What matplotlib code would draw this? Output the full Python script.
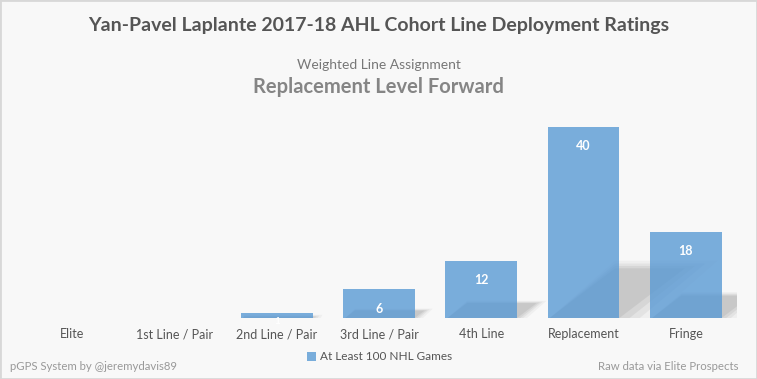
import matplotlib
matplotlib.use("Agg")
import matplotlib.pyplot as plt
from matplotlib.patches import Polygon, Rectangle

categories = ["Elite", "1st Line / Pair", "2nd Line / Pair", "3rd Line / Pair", "4th Line", "Replacement", "Fringe"]
values = [0, 0, 1, 6, 12, 40, 18]
series_name = "At Least 100 NHL Games"
title = "Yan-Pavel Laplante 2017-18 AHL Cohort Line Deployment Ratings"
subtitle1 = "Weighted Line Assignment"
subtitle2 = "Replacement Level Forward"
credit_left = "pGPS System by @jeremydavis89"
credit_right = "Raw data via Elite Prospects"

W, H = 757, 379
fig = plt.figure(figsize=(W / 100, H / 100), dpi=100)
bg = "#f8f8f8"
fig.patch.set_facecolor(bg)
fig.patches.append(Rectangle((0, 0), 1, 1, transform=fig.transFigure, fill=False,
                             edgecolor="#d8d8d8", linewidth=2, zorder=10))

ax = fig.add_axes([21 / W, 1 - 318 / H, (737 - 21) / W, (318 - 103) / H])
ax.set_facecolor(bg)
ax.set_xlim(-0.5, len(categories) - 0.5)
ax.set_ylim(0, 45)
for s in ax.spines.values():
    s.set_visible(False)
ax.set_yticks([])
ax.set_xticks(range(len(categories)))
ax.set_xticklabels(categories, fontsize=9, color="#555555", family="Lato")
ax.tick_params(axis="x", length=0, pad=7.5)

bw = 0.7
# soft shadows behind bars
for i, v in enumerate(values):
    if v <= 0:
        continue
    sh = 0.26 * v
    shift = 0.016 * v
    x0, x1 = i - bw / 2, i + bw / 2
    for grow, a in [(0.08, 0.12), (0.05, 0.18), (0.025, 0.25), (0.0, 0.35)]:
        g = grow * max(1, v / 10)
        poly = Polygon([(x0 + 0.02, 0), (x1 + g, 0), (x1 + shift + g, sh + g * 5),
                        (x0 + shift + 0.02, sh + g * 5)],
                       closed=True, facecolor="#b0b0b0", edgecolor="none", alpha=a, zorder=1)
        ax.add_patch(poly)

bars = ax.bar(range(len(categories)), values, width=bw, color="#5a9ad4", alpha=0.8,
              zorder=2, label=series_name)
for i, v in enumerate(values):
    if v <= 0:
        continue
    off = -14 if v >= 3 else -6
    ax.annotate(str(v), (i, v), xytext=(0, off), textcoords="offset points",
                ha="center", va="center", color="white", fontsize=9 if v >= 3 else 7,
                fontweight="bold", family="Lato", zorder=3)

fig.text(0.5, 1 - 26 / H, title, ha="center", va="center", fontsize=14,
         fontweight="bold", color="#555555", family="Lato")
fig.text(0.5, 1 - 65 / H, subtitle1, ha="center", va="center", fontsize=10,
         color="#777777", family="Lato")
fig.text(0.5, 1 - 87 / H, subtitle2, ha="center", va="center", fontsize=14.5,
         fontweight="bold", color="#858585", family="Lato")
fig.text(10 / W, 1 - 366 / H, credit_left, ha="left", va="center", fontsize=8.2,
         color="#999999", family="Lato")
fig.text(738 / W, 1 - 366 / H, credit_right, ha="right", va="center", fontsize=8.2,
         color="#999999", family="Lato")

leg = fig.legend(handles=[bars], labels=[series_name], loc="center",
                 bbox_to_anchor=(380 / W, 1 - 357 / H), frameon=False,
                 handlelength=0.7, handleheight=0.7, handletextpad=0.4,
                 prop={"family": "Lato", "size": 8.5})
for t in leg.get_texts():
    t.set_color("#555555")

fig.savefig("out.png", dpi=100, facecolor=bg)
